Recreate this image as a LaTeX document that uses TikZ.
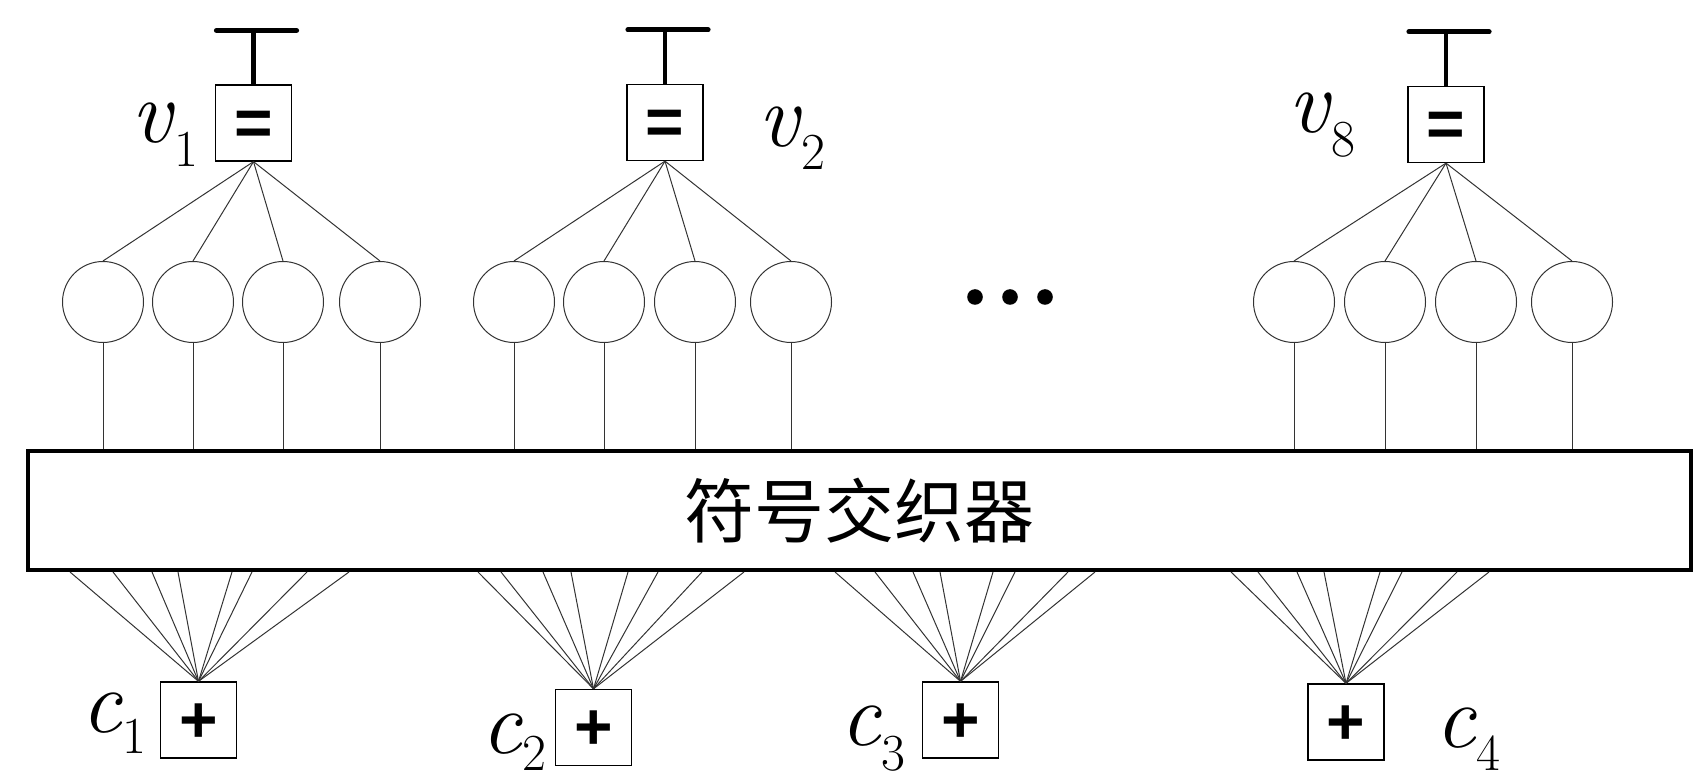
\documentclass[tikz,border=0pt]{standalone}
\usepackage{fontspec}
\newfontfamily\cjkfont{Noto Sans CJK SC}
\newfontfamily\opfont{Liberation Sans}
\newcommand{\varlab}[3]{\textit{#1}\raisebox{-#3}{\fontsize{26pt}{26pt}\selectfont #2}}

\tikzset{
  chk/.style={draw, line width=0.65pt, minimum size=38pt, inner sep=0pt,
    font=\opfont\bfseries\fontsize{33pt}{33pt}\selectfont, text height=22.4pt, text depth=0pt},
  bit/.style={circle, draw=black!80, line width=0.5pt, minimum size=40.5pt, inner sep=0pt},
  fan/.style={black!80, line width=0.5pt},
  tbar/.style={line width=2.3pt},
  lab/.style={anchor=base west, inner sep=0pt, font=\rmfamily\fontsize{45pt}{45pt}\selectfont},
}

\begin{document}
\begin{tikzpicture}[x=0.5pt, y=-0.5pt]
  \useasboundingbox (0,0) rectangle (1701,779);

  % interleaver
  \node[draw, line width=2pt, minimum width=831.5pt, minimum height=59.5pt,
    font=\cjkfont\fontsize{35pt}{35pt}\selectfont] (ilv) at (859.5,510.5) {符号交织器};

  % variable nodes
  \node[chk] (v1) at (253.5,123) {=};
  \node[chk] (v2) at (665,122.5) {=};
  \node[chk] (v8) at (1446,124.5) {=};

  % check nodes
  \node[chk] (c1) at (198.5,720) {+};
  \node[chk] (c2) at (593.5,727.5) {+};
  \node[chk] (c3) at (960.5,720) {+};
  \node[chk] (c4) at (1346,722) {+};

  % labels
  \node[lab] (lv1) at (131,143) {\varlab{v}{1}{12pt}};
  \node[lab] (lv2) at (758,147) {\varlab{v}{2}{11.5pt}};
  \node[lab] (lv8) at (1288,133) {\varlab{v}{8}{12pt}};
  \node[lab] (lc1) at (81,732) {\varlab{c}{1}{10.5pt}};
  \node[lab] (lc2) at (481,753) {\varlab{c}{2}{8.5pt}};
  \node[lab] (lc3) at (840,745) {\varlab{c}{3}{12.5pt}};
  \node[lab] (lc4) at (1435,747) {\varlab{c}{4}{11.5pt}};

  % T bars
  \foreach \v in {1,2,8} {
    \coordinate (t\v) at ([yshift=27pt]v\v.north);
    \draw[tbar] (v\v.north) -- (t\v);
    \draw[tbar, line width=2.6pt, line cap=round] ([xshift=-18.5pt]t\v) -- ([xshift=21.5pt]t\v);
  }

  % bits of each variable node
  \foreach \g/\xs in {1/{103,193,283,380}, 2/{514,604,695,791}, 8/{1294,1385,1476,1572}} {
    \foreach \x [count=\i] in \xs {
      \node[bit] (b\g\i) at (\x,302) {};
      \draw[fan] (v\g.south) -- (b\g\i.north);
      \draw[fan] (b\g\i.south) -- (b\g\i.south |- ilv.north);
    }
  }

  % fans into the check nodes
  \foreach \c/\xs in {1/{70,113,152,178,232,252,307,349}, 2/{478,501,543,571,628,658,702,744},
      3/{835,875,913,940,993,1015,1068,1095}, 4/{1231,1258,1297,1324,1380,1402,1457,1489}} {
    \foreach \x in \xs
      \draw[fan] (c\c.north) -- (ilv.south -| \x,0);
  }

  % dots
  \foreach \x in {975,1010,1045}
    \fill (\x,297) circle[radius=3.9pt];
\end{tikzpicture}
\end{document}
